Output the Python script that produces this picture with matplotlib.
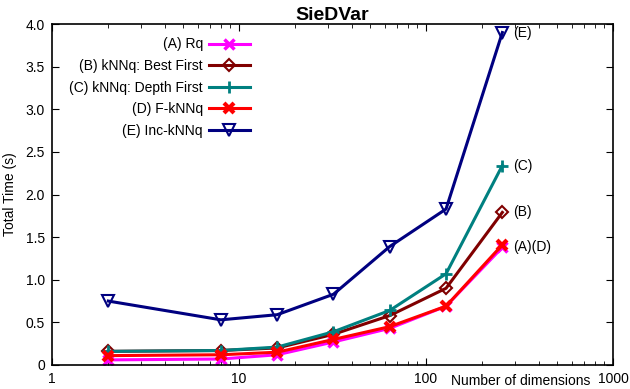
import matplotlib
matplotlib.use("Agg")
import matplotlib.pyplot as plt

plt.rcParams['font.family'] = ['Liberation Sans', 'DejaVu Sans']

dims = [2, 8, 16, 32, 64, 128, 256]
rq = [0.06, 0.07, 0.12, 0.27, 0.43, 0.69, 1.38]
best_first = [0.16, 0.17, 0.20, 0.36, 0.58, 0.90, 1.79]
depth_first = [0.16, 0.17, 0.21, 0.39, 0.64, 1.07, 2.34]
f_knnq = [0.11, 0.12, 0.15, 0.30, 0.45, 0.69, 1.41]
inc_knnq = [0.75, 0.53, 0.59, 0.83, 1.39, 1.83, 3.90]

series = [
    ("(A) Rq", rq, "#ff00ff", "x", dict(markersize=7, mew=2.5)),
    ("(B) kNNq: Best First", best_first, "#800000", "D", dict(markersize=6, mfc="none", mew=1.5)),
    ("(C) kNNq: Depth First", depth_first, "#008080", "+", dict(markersize=8, mew=2)),
    ("(D) F-kNNq", f_knnq, "#ff0000", "x", dict(markersize=7, mew=3)),
    ("(E) Inc-kNNq", inc_knnq, "#000080", "v", dict(markersize=9, mfc="none", mew=1.5)),
]

# etiquetas al final de cada curva
end_labels = [("(E)", inc_knnq), ("(C)", depth_first), ("(B)", best_first), ("(A)(D)", rq)]

fig = plt.figure(figsize=(6.3, 3.89), dpi=100)
ax = fig.add_axes([52 / 630, 24 / 389, 561 / 630, 341 / 389])

for name, vals, col, mk, kw in series:
    ax.plot(dims, vals, color=col, marker=mk, lw=2.2, label=name, **kw)

ax.set_xscale("log")
ax.set_xlim(1, 1000)
ax.set_ylim(0, 4)
ax.set_yticks([0, 0.5, 1.0, 1.5, 2.0, 2.5, 3.0, 3.5, 4.0])
ax.set_yticklabels(["0", "0.5", "1.0", "1.5", "2.0", "2.5", "3.0", "3.5", "4.0"])
ax.set_xticks([1, 10, 100, 1000])
ax.set_xticklabels(["1", "10", "100", "1000"])
ax.tick_params(which="both", direction="in", top=True, right=True, labelsize=10)
ax.tick_params(which="major", length=5, pad=5)
ax.tick_params(which="minor", length=3)
for sp in ax.spines.values():
    sp.set_linewidth(1.2)

ax.set_title("SieDVar", fontsize=14, fontweight="bold", pad=3)
ax.set_ylabel("Total Time (s)", fontsize=10)
ax.yaxis.set_label_coords(-0.062, 0.5)
ax.text(0.96, -0.025, "Number of dimensions", transform=ax.transAxes, ha="right", va="top", fontsize=10)

for txt, vals in end_labels:
    ax.annotate(txt, (dims[-1], vals[-1]), xytext=(8, 0), textcoords="offset points",
                va="center", fontsize=10)

ax.legend(loc="upper right", bbox_to_anchor=(0.362, 0.977), frameon=False, markerfirst=False,
          fontsize=10, handlelength=2.95, handletextpad=0.4, labelspacing=0.55, borderaxespad=0)

fig.savefig("out.png", dpi=100)
